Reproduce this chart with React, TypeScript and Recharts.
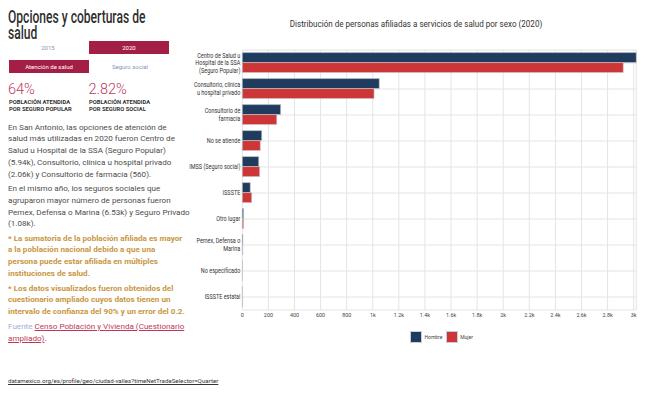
import React from 'react';
import { BarChart, Bar, XAxis, YAxis, CartesianGrid } from 'recharts';

const categories = [
  'Centro de Salud u Hospital de la SSA (Seguro Popular)',
  'Consultorio, clínica u hospital privado',
  'Consultorio de farmacia',
  'No se atiende',
  'IMSS (Seguro social)',
  'ISSSTE',
  'Otro lugar',
  'Pemex, Defensa o Marina',
  'No especificado',
  'ISSSTE estatal',
];
const hombre = [3020, 1050, 294, 149, 126, 61, 10, 5, 2, 2];
const mujer = [2920, 1010, 264, 138, 133, 72, 10, 4, 2, 3];
const seriesNames = ['Hombre', 'Mujer'];
const seriesColors = ['#1f3b5e', '#cc3636'];
const xTicks = [0, 200, 400, 600, 800, 1000, 1200, 1400, 1600, 1800, 2000, 2200, 2400, 2600, 2800, 3000];

const data = categories.map((c, i) => ({ name: c, Hombre: hombre[i], Mujer: mujer[i] }));

const FONT = 'Roboto, "Noto Sans", sans-serif';

const fmtTick = (v: number) => {
  if (v === 0) return '0';
  if (v < 1000) return String(v);
  return `${+(v / 1000).toFixed(1)}k`;
};

const wrap = (s: string, max: number) => {
  const words = s.split(' ');
  const lines: string[] = [];
  let cur = '';
  words.forEach((w) => {
    const t = cur ? cur + ' ' + w : w;
    if (t.length > max && cur) {
      lines.push(cur);
      cur = w;
    } else cur = t;
  });
  if (cur) lines.push(cur);
  return lines;
};

const YTick = (props: any) => {
  const { x, y, payload } = props;
  const lines = wrap(payload.value, 20);
  const lh = 7.7;
  const start = y - ((lines.length - 1) * lh) / 2;
  const sx = 0.86;
  return (
    <g transform={`translate(${x},0) scale(${sx},1)`}>
      <text x={0} y={start} textAnchor="end" fontSize={6.4} fill="#333" fontFamily={FONT}>
        {lines.map((l, i) => (
          <tspan key={i} x={0} y={start + i * lh} dy="0.35em">
            {l}
          </tspan>
        ))}
      </text>
    </g>
  );
};

const XTick = (props: any) => {
  const { x, y, payload } = props;
  return (
    <g transform={`translate(${x},${y}) scale(0.9,1)`}>
      <text x={0} y={0} dy="0.71em" textAnchor="middle" fontSize={6} fill="#444" fontFamily={FONT}>
        {fmtTick(payload.value)}
      </text>
    </g>
  );
};

const abs = (left: number, top: number, extra: React.CSSProperties = {}): React.CSSProperties => ({
  position: 'absolute',
  left,
  top,
  ...extra,
});

const p1 = [
  'En San Antonio, las opciones de atención de',
  'salud más utilizadas en 2020 fueron Centro de',
  'Salud u Hospital de la SSA (Seguro Popular)',
  '(5.94k), Consultorio, clínica u hospital privado',
  '(2.06k) y Consultorio de farmacia (560).',
];
const p2 = [
  'En el mismo año, los seguros sociales que',
  'agruparon mayor número de personas fueron',
  'Pemex, Defensa o Marina (6.53k) y Seguro Privado',
  '(1.08k).',
];
const o1 = [
  '* La sumatoria de la población afiliada es mayor',
  'a la población nacional debido a que una',
  'persona puede estar afiliada en múltiples',
  'instituciones de salud.',
];
const o2 = [
  '* Los datos visualizados fueron obtenidos del',
  'cuestionario ampliado cuyos datos tienen un',
  'intervalo de confianza del 90% y un error del 0.2.',
];

const LH = 11.8;
const PFS = 8.1;

const Para = ({ lines, top, color, bold }: { lines: string[]; top: number; color: string; bold?: boolean }) => (
  <div
    style={abs(8, top - LH / 2, {
      fontSize: PFS,
      lineHeight: `${LH}px`,
      color,
      fontWeight: bold ? 700 : 400,
      whiteSpace: 'pre',
      fontFamily: FONT,
    })}
  >
    {lines.join('\n')}
  </div>
);

export default function App() {
  return (
    <div style={{ position: 'absolute', left: 0, top: 0, width: 659, height: 394, background: '#fff', overflow: 'hidden', fontFamily: FONT }}>
      <div style={{ position: 'absolute', left: 0, top: 0 }}>
        <BarChart
          width={659}
          height={394}
          data={data}
          layout="vertical"
          margin={{ top: 50, right: 22.7, bottom: 64, left: 0 }}
          barCategoryGap="10%"
          barGap={0}
        >
          <CartesianGrid stroke="#e4e4e4" strokeWidth={1} />
          <XAxis
            type="number"
            domain={[0, 3020]}
            ticks={xTicks}
            axisLine={false}
            tickLine={false}
            tickSize={0}
            tickMargin={3}
            height={20}
            interval={0}
            tick={<XTick />}
          />
          <YAxis
            type="category"
            dataKey="name"
            width={242.3}
            axisLine={false}
            tickLine={false}
            tickSize={0}
            tickMargin={2}
            interval={0}
            tick={<YTick />}
          />
          {seriesNames.map((s, i) => (
            <Bar key={s} dataKey={s} fill={seriesColors[i]} stroke="#c9ccd2" strokeWidth={0.6} isAnimationActive={false} />
          ))}
        </BarChart>
      </div>

      {/* chart title */}
      <div
        style={abs(180, 16.5, {
          width: 472,
          textAlign: 'center',
          fontSize: 9.6,
          color: '#333',
          lineHeight: '13px',
          transform: 'scaleX(0.84)',
          transformOrigin: '236px 0',
          whiteSpace: 'nowrap',
        })}
      >
        Distribución de personas afiliadas a servicios de salud por sexo (2020)
      </div>

      {/* legend */}
      {seriesNames.map((s, i) => (
        <div key={s} style={abs(410 + i * 35.7, 331, { display: 'flex', alignItems: 'center' })}>
          <div style={{ width: 12, height: 12, background: seriesColors[i], border: '0.6px solid #c9ccd2', boxSizing: 'border-box' }} />
          <div style={{ fontSize: 5, color: '#444', marginLeft: 2.5 }}>{s}</div>
        </div>
      ))}

      {/* title */}
      <div
        style={abs(8, 9, {
          fontSize: 17.5,
          lineHeight: '16px',
          color: '#2e2e2e',
          fontWeight: 500,
          whiteSpace: 'pre',
          transform: 'scaleX(0.69)',
          transformOrigin: 'left top',
        })}
      >
        {'Opciones y coberturas de\nsalud'}
      </div>

      {/* selectors */}
      <div style={abs(8, 41, { width: 80, height: 13, lineHeight: '13px', textAlign: 'center', fontSize: 6, color: '#8596ba' })}>2015</div>
      <div style={abs(89, 41, { width: 80, height: 13, lineHeight: '13px', textAlign: 'center', fontSize: 6, color: '#fff', background: '#a31f45' })}>2020</div>
      <div style={abs(9, 60, { width: 80, height: 13, lineHeight: '13px', textAlign: 'center', fontSize: 6, color: '#fff', background: '#a31f45' })}>Atención de salud</div>
      <div style={abs(90, 60, { width: 80, height: 13, lineHeight: '13px', textAlign: 'center', fontSize: 6, color: '#8596ba' })}>Seguro social</div>

      {/* stats */}
      <div style={abs(8, 81.5, { fontSize: 14.5, lineHeight: '16px', color: '#c0385a', fontWeight: 300 })}>64%</div>
      <div style={abs(88.5, 81.5, { fontSize: 14.5, lineHeight: '16px', color: '#c0385a', fontWeight: 300 })}>2.82%</div>
      <div style={abs(9, 98.5, { fontSize: 5.8, lineHeight: '7px', color: '#333', fontWeight: 700, whiteSpace: 'pre' })}>
        {'POBLACIÓN ATENDIDA\nPOR SEGURO POPULAR'}
      </div>
      <div style={abs(89, 98.5, { fontSize: 5.8, lineHeight: '7px', color: '#333', fontWeight: 700, whiteSpace: 'pre' })}>
        {'POBLACIÓN ATENDIDA\nPOR SEGURO SOCIAL'}
      </div>

      <Para lines={p1} top={127.5} color="#4d4d4d" />
      <Para lines={p2} top={189} color="#4d4d4d" />
      <Para lines={o1} top={238.5} color="#c8963f" bold />
      <Para lines={o2} top={288.5} color="#c8963f" bold />

      <div style={abs(8, 327 - LH / 2, { fontSize: PFS, lineHeight: `${LH}px`, whiteSpace: 'pre', color: '#9fb0d2' })}>
        {'Fuente '}
        <span style={{ color: '#c0385a', textDecoration: 'underline' }}>{'Censo Población y Vivienda (Cuestionario'}</span>
        {'\n'}
        <span style={{ color: '#c0385a', textDecoration: 'underline' }}>{'ampliado)'}</span>
        <span style={{ color: '#c0385a' }}>.</span>
      </div>

      {/* url */}
      <div style={abs(8, 377, { fontSize: 6.2, lineHeight: '8px', color: '#333', textDecoration: 'underline' })}>
        datamexico.org/es/profile/geo/ciudad-valles?timeNetTradeSelector=Quarter
      </div>
    </div>
  );
}
